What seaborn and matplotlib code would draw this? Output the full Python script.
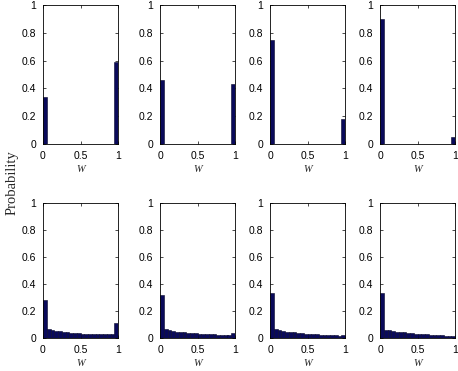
import numpy as np
import matplotlib
matplotlib.use("Agg")
import matplotlib.pyplot as plt
import seaborn as sns

# bin probabilities, 20 bins over [0, 1]
n_bins = 20
top_first = [0.34, 0.46, 0.75, 0.90]
top_last = [0.59, 0.43, 0.18, 0.05]
top_mid = 0.003

bottom_1 = [0.28, 0.068, 0.060, 0.054, 0.049, 0.045, 0.042, 0.039, 0.037, 0.035,
            0.033, 0.032, 0.031, 0.030, 0.030, 0.030, 0.029, 0.029, 0.030, 0.11]
bottom_2 = [0.32, 0.065, 0.058, 0.052, 0.048, 0.045, 0.042, 0.039, 0.036, 0.034,
            0.032, 0.030, 0.028, 0.027, 0.026, 0.025, 0.024, 0.023, 0.022, 0.040]
bottom_3 = [0.33, 0.064, 0.057, 0.052, 0.048, 0.045, 0.041, 0.038, 0.035, 0.033,
            0.030, 0.028, 0.026, 0.025, 0.023, 0.022, 0.020, 0.019, 0.018, 0.025]
bottom_4 = [0.33, 0.060, 0.056, 0.052, 0.048, 0.045, 0.042, 0.039, 0.036, 0.033,
            0.031, 0.029, 0.027, 0.025, 0.023, 0.021, 0.019, 0.017, 0.016, 0.015]

x_ticks = [0, 0.5, 1]
x_ticklabels = ["0", "0.5", "1"]
y_ticks = [0, 0.2, 0.4, 0.6, 0.8, 1]
y_ticklabels = ["0", "0.2", "0.4", "0.6", "0.8", "1"]

sns.set_theme(style="white")
plt.rcParams['font.family'] = ['Liberation Sans', 'DejaVu Sans']

W, H = 458, 371
fig = plt.figure(figsize=(W / 100, H / 100), dpi=100)

centers = (np.arange(n_bins) + 0.5) / n_bins

top_rows = []
for f, l in zip(top_first, top_last):
    v = [top_mid] * n_bins
    v[0] = f
    v[-1] = l
    top_rows.append(v)
bottom_rows = [bottom_1, bottom_2, bottom_3, bottom_4]

lefts = [43, 160, 270, 380]
pw = 75
rows_y = [(5, 144), (203, 338)]

for r, data_rows in enumerate([top_rows, bottom_rows]):
    y0, y1 = rows_y[r]
    for c, vals in enumerate(data_rows):
        ax = fig.add_axes([lefts[c] / W, 1 - y1 / H, pw / W, (y1 - y0) / H])
        sns.histplot(x=centers, weights=vals, bins=n_bins, binrange=(0, 1),
                     stat="count", color="#0a0a5a", edgecolor="#05052a",
                     linewidth=0.4, alpha=1, ax=ax)
        ax.set_xlim(0, 1)
        ax.set_ylim(0, 1)
        ax.set_xticks(x_ticks)
        ax.set_xticklabels(x_ticklabels)
        ax.set_yticks(y_ticks)
        ax.set_yticklabels(y_ticklabels)
        ax.tick_params(direction="in", length=2, width=0.5, labelsize=7.5, pad=5,
                       colors="black", top=True, right=True, bottom=True, left=True)
        ax.set_ylabel("")
        ax.set_xlabel("W", family="Liberation Serif", style="italic", fontsize=7.5, labelpad=3)
        for s in ax.spines.values():
            s.set_color("black")
            s.set_linewidth(0.6)

fig.text(12 / W, 1 - 183 / H, "Probability", rotation=90, va="center", ha="center",
         family="Liberation Serif", fontsize=10.5)

fig.savefig("out.png", dpi=100)
